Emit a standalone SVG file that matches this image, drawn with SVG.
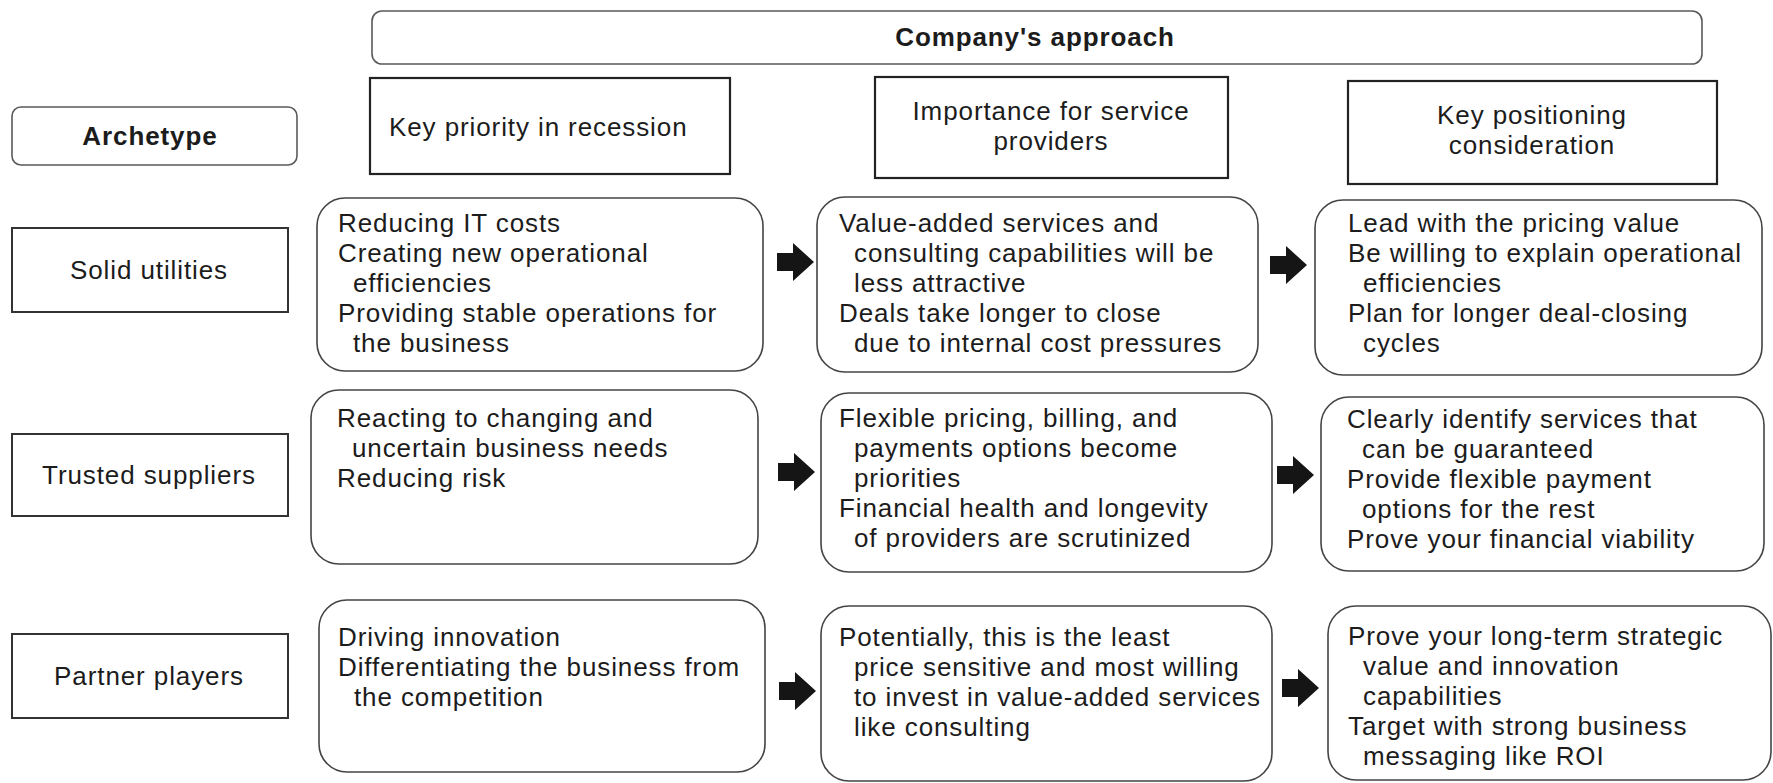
<svg xmlns="http://www.w3.org/2000/svg" width="1773" height="783" viewBox="0 0 1773 783">
<style>
text{font-family:"Liberation Sans",Arial,sans-serif;font-size:26px;letter-spacing:0.9px;fill:#1c1c1c}
.b{font-weight:bold;letter-spacing:0.9px}
.m{text-anchor:middle}
.top{fill:#fff;stroke:#5a5a5a;stroke-width:1.6}
.hdr{fill:#fff;stroke:#222;stroke-width:2.2}
.lbl{fill:#fff;stroke:#333;stroke-width:2}
.cnt{fill:#fff;stroke:#444;stroke-width:1.6}
.arr{fill:#151515}
</style>
<defs>
<path id="arrow" d="M-37,-9 H-21 V-19 L0,0 L-21,19 V9 H-37 Z"/>
</defs>
<rect width="1773" height="783" fill="#fff"/>

<g id="company-approach">
<rect class="top" x="372" y="11" width="1330" height="53" rx="10"/>
<text class="b m" x="1035" y="46">Company's approach</text>
</g>
<g id="archetype">
<rect class="top" x="12" y="107" width="285" height="58" rx="9"/>
<text class="b m" x="150" y="145">Archetype</text>
</g>
<g id="hdr-priority">
<rect class="hdr" x="370" y="78" width="360" height="96"/>
<text x="389" y="136">Key priority in recession</text>
</g>
<g id="hdr-importance">
<rect class="hdr" x="875" y="77" width="353" height="101"/>
<text class="m" x="1051" y="120">Importance for service</text>
<text class="m" x="1051" y="150">providers</text>
</g>
<g id="hdr-positioning">
<rect class="hdr" x="1348" y="81" width="369" height="103"/>
<text class="m" x="1532" y="124">Key positioning</text>
<text class="m" x="1532" y="154">consideration</text>
</g>

<g id="solid-utilities">
<rect class="lbl" x="12" y="228" width="276" height="84"/>
<text class="m" x="149" y="279">Solid utilities</text>
</g>
<g id="solid-priority">
<rect class="cnt" x="317" y="198" width="446" height="173" rx="28"/>
<text x="338" y="232">Reducing IT costs</text>
<text x="338" y="262">Creating new operational</text>
<text x="353" y="292">efficiencies</text>
<text x="338" y="322">Providing stable operations for</text>
<text x="353" y="352">the business</text>
</g>
<g id="solid-importance">
<rect class="cnt" x="817" y="197" width="441" height="175" rx="28"/>
<text x="839" y="232">Value-added services and</text>
<text x="854" y="262">consulting capabilities will be</text>
<text x="854" y="292">less attractive</text>
<text x="839" y="322">Deals take longer to close</text>
<text x="854" y="352">due to internal cost pressures</text>
</g>
<g id="solid-positioning">
<rect class="cnt" x="1315" y="200" width="447" height="175" rx="28"/>
<text x="1348" y="232">Lead with the pricing value</text>
<text x="1348" y="262">Be willing to explain operational</text>
<text x="1363" y="292">efficiencies</text>
<text x="1348" y="322">Plan for longer deal-closing</text>
<text x="1363" y="352">cycles</text>
</g>

<g id="trusted-suppliers">
<rect class="lbl" x="12" y="434" width="276" height="82"/>
<text class="m" x="149" y="484">Trusted suppliers</text>
</g>
<g id="trusted-priority">
<rect class="cnt" x="311" y="390" width="447" height="174" rx="28"/>
<text x="337" y="427">Reacting to changing and</text>
<text x="352" y="457">uncertain business needs</text>
<text x="337" y="487">Reducing risk</text>
</g>
<g id="trusted-importance">
<rect class="cnt" x="821" y="393" width="451" height="179" rx="28"/>
<text x="839" y="427">Flexible pricing, billing, and</text>
<text x="854" y="457">payments options become</text>
<text x="854" y="487">priorities</text>
<text x="839" y="517">Financial health and longevity</text>
<text x="854" y="547">of providers are scrutinized</text>
</g>
<g id="trusted-positioning">
<rect class="cnt" x="1321" y="397" width="443" height="174" rx="28"/>
<text x="1347" y="428">Clearly identify services that</text>
<text x="1362" y="458">can be guaranteed</text>
<text x="1347" y="488">Provide flexible payment</text>
<text x="1362" y="518">options for the rest</text>
<text x="1347" y="548">Prove your financial viability</text>
</g>

<g id="partner-players">
<rect class="lbl" x="12" y="634" width="276" height="84"/>
<text class="m" x="149" y="685">Partner players</text>
</g>
<g id="partner-priority">
<rect class="cnt" x="319" y="600" width="446" height="172" rx="28"/>
<text x="338" y="646">Driving innovation</text>
<text x="338" y="676">Differentiating the business from</text>
<text x="354" y="706">the competition</text>
</g>
<g id="partner-importance">
<rect class="cnt" x="821" y="606" width="451" height="175" rx="28"/>
<text x="839" y="646">Potentially, this is the least</text>
<text x="854" y="676">price sensitive and most willing</text>
<text x="854" y="706">to invest in value-added services</text>
<text x="854" y="736">like consulting</text>
</g>
<g id="partner-positioning">
<rect class="cnt" x="1328" y="606" width="443" height="174" rx="28"/>
<text x="1348" y="645">Prove your long-term strategic</text>
<text x="1363" y="675">value and innovation</text>
<text x="1363" y="705">capabilities</text>
<text x="1348" y="735">Target with strong business</text>
<text x="1363" y="765">messaging like ROI</text>
</g>

<g id="connectors" class="arr">
<use href="#arrow" transform="translate(814,262)"/>
<use href="#arrow" transform="translate(1307,265)"/>
<use href="#arrow" transform="translate(815,472)"/>
<use href="#arrow" transform="translate(1314,475)"/>
<use href="#arrow" transform="translate(816,691)"/>
<use href="#arrow" transform="translate(1319,688)"/>
</g>
</svg>
